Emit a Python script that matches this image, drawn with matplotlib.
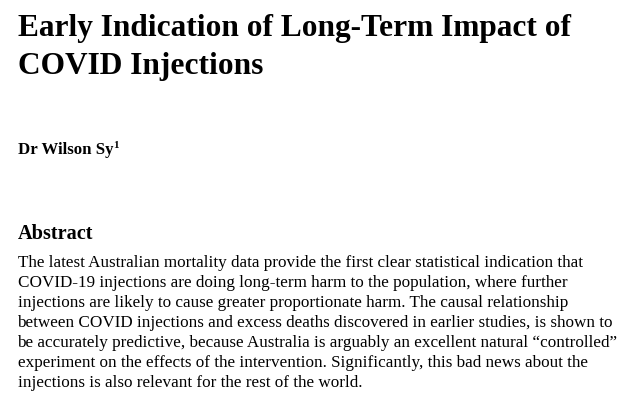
import matplotlib
matplotlib.use("Agg")
import matplotlib.pyplot as plt

W, H = 638, 402
title_lines = ["Early Indication of Long-Term Impact of", "COVID Injections"]
author = "Dr Wilson Sy"
author_sup = "1"
heading = "Abstract"
body_lines = [
    "The latest Australian mortality data provide the first clear statistical indication that",
    "COVID-19 injections are doing long-term harm to the population, where further",
    "injections are likely to cause greater proportionate harm. The causal relationship",
    "between COVID injections and excess deaths discovered in earlier studies, is shown to",
    "be accurately predictive, because Australia is arguably an excellent natural \u201ccontrolled\u201d",
    "experiment on the effects of the intervention. Significantly, this bad news about the",
    "injections is also relevant for the rest of the world.",
]

FONT = "Liberation Serif"
fig = plt.figure(figsize=(W / 100, H / 100), dpi=100)
fig.patch.set_facecolor("white")

def put(x, y, s, size, weight="normal"):
    return fig.text(x / W, 1 - y / H, s, fontsize=size, fontweight=weight,
                    family=FONT, ha="left", va="baseline", color="black")

left = 17.5
for i, line in enumerate(title_lines):
    put(left, 36 + 38 * i, line, 22.6, "bold")

a = put(left, 154, author, 12.1, "bold")
fig.canvas.draw()
r = fig.canvas.get_renderer()
bb = a.get_window_extent(r)
put(bb.x1 + 0.5, 147.5, author_sup, 8.0, "bold")

put(left, 239, heading, 14.6, "bold")
for i, line in enumerate(body_lines):
    put(left, 267 + 20 * i, line, 12.35)

fig.savefig("out.png", dpi=100, facecolor="white")
